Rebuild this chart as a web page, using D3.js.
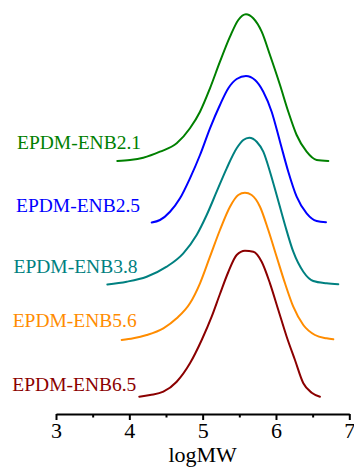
<!DOCTYPE html>
<html>
<head>
<meta charset="utf-8">
<script src="https://cdn.jsdelivr.net/npm/d3@7"></script>
<style>
  html, body { margin: 0; padding: 0; background: #fff; }
  svg { display: block; }
  text { font-family: "Liberation Serif", "Times New Roman", serif; }
</style>
</head>
<body>
<svg id="chart" width="354" height="470"></svg>
<script>
// GPC traces of EPDM samples with different ENB content, stacked vertically.
const sampleNames = ["EPDM-ENB2.1", "EPDM-ENB2.5", "EPDM-ENB3.8", "EPDM-ENB5.6", "EPDM-ENB6.5"];
const sampleColors = ["#008000", "#0000ff", "#008080", "#ff8c00", "#8b0000"];
// vertical offset applied to each trace (stacking)
const sampleOffsets = [2.53, 1.915, 1.295, 0.74, 0.17];

const logMW21 = [3.836, 4.009, 4.19, 4.418, 4.646, 4.827, 4.964, 5.1, 5.236, 5.373, 5.486, 5.591, 5.69, 5.805, 5.918, 6.055, 6.168, 6.282, 6.418, 6.555, 6.714];
const signal21 = [0, 0.01, 0.033, 0.093, 0.177, 0.327, 0.493, 0.727, 0.993, 1.243, 1.41, 1.467, 1.427, 1.293, 1.06, 0.76, 0.493, 0.26, 0.093, 0.01, 0];

const logMW25 = [4.305, 4.418, 4.555, 4.691, 4.827, 4.964, 5.1, 5.236, 5.35, 5.464, 5.591, 5.714, 5.827, 5.941, 6.055, 6.168, 6.282, 6.418, 6.555, 6.682];
const signal25 = [0, 0.025, 0.108, 0.242, 0.442, 0.675, 0.942, 1.175, 1.342, 1.435, 1.465, 1.425, 1.308, 1.108, 0.808, 0.508, 0.258, 0.092, 0.015, 0.002];

const logMW38 = [3.7, 3.964, 4.237, 4.51, 4.736, 4.918, 5.055, 5.191, 5.328, 5.464, 5.555, 5.636, 5.737, 5.827, 5.918, 6.009, 6.123, 6.236, 6.373, 6.509, 6.691, 6.85];
const signal38 = [0, 0.028, 0.078, 0.178, 0.312, 0.495, 0.695, 0.928, 1.162, 1.362, 1.445, 1.468, 1.428, 1.328, 1.128, 0.895, 0.595, 0.328, 0.128, 0.035, 0.012, 0.002];

const logMW56 = [3.896, 4.054, 4.237, 4.464, 4.646, 4.827, 4.964, 5.1, 5.236, 5.373, 5.486, 5.577, 5.668, 5.782, 5.895, 6.009, 6.123, 6.236, 6.373, 6.532, 6.691, 6.782];
const signal56 = [0, 0.017, 0.05, 0.117, 0.217, 0.367, 0.567, 0.833, 1.1, 1.333, 1.45, 1.473, 1.45, 1.333, 1.1, 0.833, 0.567, 0.333, 0.15, 0.05, 0.017, 0.007];

const logMW65 = [4.136, 4.282, 4.464, 4.646, 4.827, 4.987, 5.123, 5.236, 5.35, 5.464, 5.577, 5.691, 5.805, 5.918, 6.032, 6.146, 6.259, 6.373, 6.487, 6.6];
const signal65 = [0.003, 0.02, 0.053, 0.153, 0.337, 0.57, 0.803, 1.03, 1.25, 1.42, 1.463, 1.453, 1.353, 1.137, 0.87, 0.603, 0.37, 0.137, 0.043, 0.003];

const xTicks = [3, 4, 5, 6, 7];
const xMinorTicks = [3.5, 4.5, 5.5, 6.5];
const xTitle = "logMW";

// label anchor per trace: left x, baseline y
const labelPos = [[17, 149], [16, 211.5], [13.5, 272.7], [12.7, 326.7], [12.3, 390.7]];

const traces = [
  [logMW21, signal21],
  [logMW25, signal25],
  [logMW38, signal38],
  [logMW56, signal56],
  [logMW65, signal65]
];

const svg = d3.select("#chart");
const axisY = 414;

const x = d3.scaleLinear().domain([3, 7]).range([56, 349.3]);
const y = d3.scaleLinear().domain([0, 4]).range([axisY, 14]);

const line = d3.line()
  .x(d => x(d[0]))
  .y(d => y(d[1]))
  .curve(d3.curveMonotoneX);

traces.forEach((t, i) => {
  const pts = t[0].map((m, k) => [m, t[1][k] + sampleOffsets[i]]);
  svg.append("path")
    .datum(pts)
    .attr("d", line)
    .attr("fill", "none")
    .attr("stroke", sampleColors[i])
    .attr("stroke-width", 2)
    .attr("stroke-linejoin", "round")
    .attr("stroke-linecap", "round");

  svg.append("text")
    .attr("x", labelPos[i][0])
    .attr("y", labelPos[i][1])
    .attr("fill", sampleColors[i])
    .attr("font-size", "19.5px")
    .text(sampleNames[i]);
});

// x axis: major ticks with labels, minor ticks between
const gx = svg.append("g").attr("transform", `translate(0,${axisY})`);
gx.call(d3.axisBottom(x).tickValues(xTicks).tickSize(6).tickSizeOuter(0).tickFormat(d3.format("d")));
gx.select(".domain").attr("stroke", "#000").attr("stroke-width", 2);
gx.selectAll(".tick line").attr("stroke", "#000").attr("stroke-width", 2);
gx.selectAll(".tick text")
  .attr("font-family", "Liberation Serif, Times New Roman, serif")
  .attr("font-size", "22px")
  .attr("fill", "#000")
  .attr("y", 8);

const gm = svg.append("g").attr("transform", `translate(0,${axisY})`);
gm.call(d3.axisBottom(x).tickValues(xMinorTicks).tickSize(3.5).tickFormat(""));
gm.select(".domain").remove();
gm.selectAll(".tick line").attr("stroke", "#000").attr("stroke-width", 2);

svg.append("text")
  .attr("x", x(5))
  .attr("y", 462)
  .attr("text-anchor", "middle")
  .attr("font-size", "22px")
  .attr("fill", "#000")
  .text(xTitle);
</script>
</body>
</html>
